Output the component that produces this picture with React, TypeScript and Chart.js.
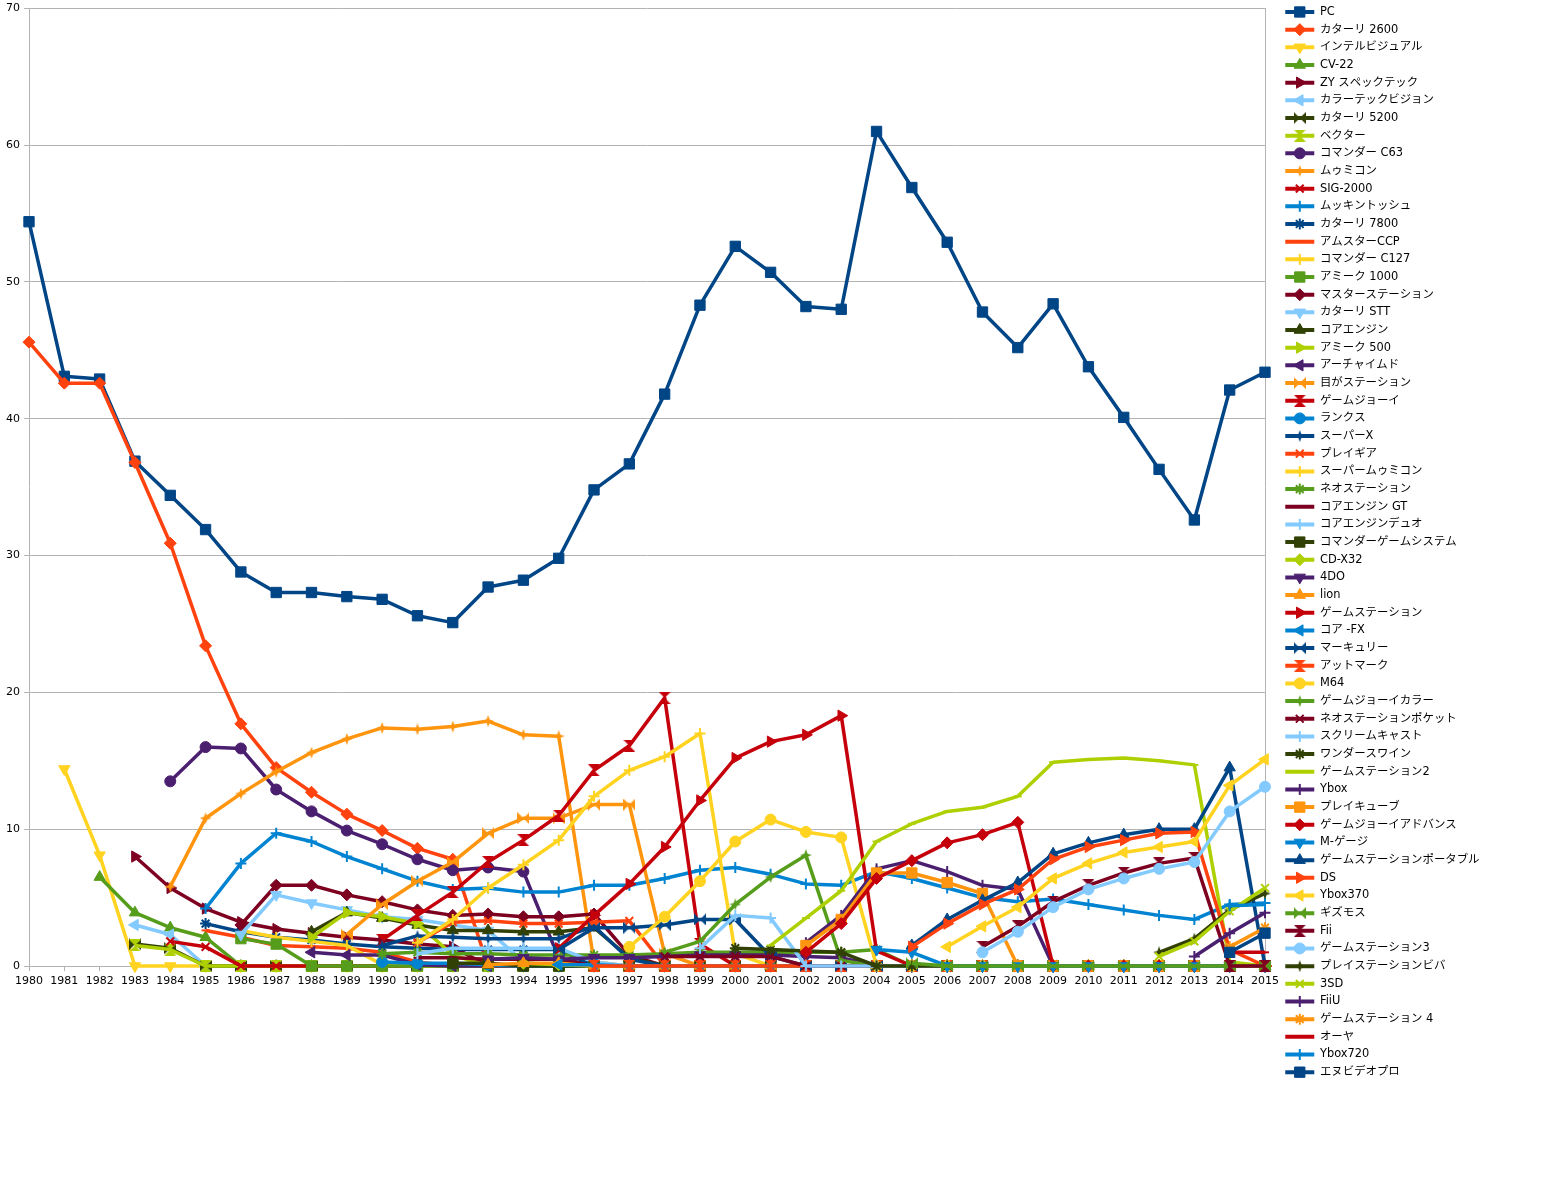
import React, { useEffect, useRef } from 'react';
import { Chart, registerables } from 'chart.js';
import { drawPoint } from 'chart.js/helpers';

Chart.register(...registerables);

const _ = null;

const years = [
  '1980', '1981', '1982', '1983', '1984', '1985', '1986', '1987', '1988', '1989',
  '1990', '1991', '1992', '1993', '1994', '1995', '1996', '1997', '1998', '1999',
  '2000', '2001', '2002', '2003', '2004', '2005', '2006', '2007', '2008', '2009',
  '2010', '2011', '2012', '2013', '2014', '2015',
];

const seriesNames = [
  'PC', 'カターリ 2600', 'インテルビジュアル', 'CV-22', 'ZY スペックテック', 'カラーテックビジョン',
  'カターリ 5200', 'ベクター', 'コマンダー C63', 'ムゥミコン', 'SIG-2000', 'ムッキントッシュ',
  'カターリ 7800', 'アムスターCCP', 'コマンダー C127', 'アミーク 1000', 'マスターステーション', 'カターリ STT',
  'コアエンジン', 'アミーク 500', 'アーチャイムド', '目がステーション', 'ゲームジョーイ', 'ランクス',
  'スーパーX', 'プレイギア', 'スーパームゥミコン', 'ネオステーション', 'コアエンジン GT', 'コアエンジンデュオ',
  'コマンダーゲームシステム', 'CD-X32', '4DO', 'lion', 'ゲームステーション', 'コア -FX',
  'マーキュリー', 'アットマーク', 'M64', 'ゲームジョーイカラー', 'ネオステーションポケット', 'スクリームキャスト',
  'ワンダースワイン', 'ゲームステーション2', 'Ybox', 'プレイキューブ', 'ゲームジョーイアドバンス', 'M-ゲージ',
  'ゲームステーションポータブル', 'DS', 'Ybox370', 'ギズモス', 'Fii', 'ゲームステーション3',
  'プレイステーションビバ', '3SD', 'FiiU', 'ゲームステーション 4', 'オーヤ', 'Ybox720', 'エヌビデオプロ',
];

const pc = [
  54.4, 43.1, 42.9, 36.9, 34.4, 31.9, 28.8, 27.3, 27.3, 27.0,
  26.8, 25.6, 25.1, 27.7, 28.2, 29.8, 34.8, 36.7, 41.8, 48.3,
  52.6, 50.7, 48.2, 48.0, 61.0, 56.9, 52.9, 47.8, 45.2, 48.4,
  43.8, 40.1, 36.3, 32.6, 42.1, 43.4,
];
const katari2600 = [
  45.6, 42.6, 42.6, 36.8, 30.9, 23.4, 17.7, 14.5, 12.7, 11.1,
  9.9, 8.6, 7.8, 0, 0, 0, 0, 0, 0, 0,
  0, 0, 0, 0, 0, 0, 0, 0, 0, 0,
  0, 0, 0, 0, 0, 0,
];
const intelVisual = [
  _, 14.4, 8.1, 0, 0, 0, 0, 0, 0, 0,
  0, 0, 0, 0, 0, 0, 0, 0, 0, 0,
  0, 0, 0, 0, 0, 0, 0, 0, 0, 0,
  0, 0, 0, 0, 0, 0,
];
const cv22 = [
  _, _, 6.5, 3.9, 2.8, 2.1, 0, 0, 0, 0,
  0, 0, 0, 0, 0, 0, 0, 0, 0, 0,
  0, 0, 0, 0, 0, 0, 0, 0, 0, 0,
  0, 0, 0, 0, 0, 0,
];
const zySpecTech = [
  _, _, _, 8.0, 5.7, 4.2, 3.2, 2.7, 2.4, 2.1,
  1.9, 1.6, 1.4, 0, 0, 0, 0, 0, 0, 0,
  0, 0, 0, 0, 0, 0, 0, 0, 0, 0,
  0, 0, 0, 0, 0, 0,
];
const colorTechVision = [
  _, _, _, 3.0, 2.3, 0, 0, 0, 0, 0,
  0, 0, 0, 0, 0, 0, 0, 0, 0, 0,
  0, 0, 0, 0, 0, 0, 0, 0, 0, 0,
  0, 0, 0, 0, 0, 0,
];
const katari5200 = [
  _, _, _, 1.6, 1.3, 0, 0, 0, 0, 0,
  0, 0, 0, 0, 0, 0, 0, 0, 0, 0,
  0, 0, 0, 0, 0, 0, 0, 0, 0, 0,
  0, 0, 0, 0, 0, 0,
];
const vector = [
  _, _, _, 1.5, 1.2, 0, 0, 0, 0, 0,
  0, 0, 0, 0, 0, 0, 0, 0, 0, 0,
  0, 0, 0, 0, 0, 0, 0, 0, 0, 0,
  0, 0, 0, 0, 0, 0,
];
const commanderC63 = [
  _, _, _, _, 13.5, 16.0, 15.9, 12.9, 11.3, 9.9,
  8.9, 7.8, 7.0, 7.2, 6.9, 0.6, 0, 0, 0, 0,
  0, 0, 0, 0, 0, 0, 0, 0, 0, 0,
  0, 0, 0, 0, 0, 0,
];
const mumicon = [
  _, _, _, _, 5.8, 10.8, 12.6, 14.2, 15.6, 16.6,
  17.4, 17.3, 17.5, 17.9, 16.9, 16.8, 0.3, 0, 0, 0,
  0, 0, 0, 0, 0, 0, 0, 0, 0, 0,
  0, 0, 0, 0, 0, 0,
];
const sig2000 = [
  _, _, _, _, 1.8, 1.4, 0, 0, 0, 0,
  0, 0, 0, 0, 0, 0, 0, 0, 0, 0,
  0, 0, 0, 0, 0, 0, 0, 0, 0, 0,
  0, 0, 0, 0, 0, 0,
];
const mukkintosh = [
  _, _, _, _, _, 4.2, 7.5, 9.7, 9.1, 8.0,
  7.1, 6.2, 5.6, 5.7, 5.4, 5.4, 5.9, 5.9, 6.4, 7.0,
  7.2, 6.7, 6.0, 5.9, 6.9, 6.4, 5.7, 5.0, 4.7, 4.9,
  4.5, 4.1, 3.7, 3.4, 4.5, 4.6,
];
const katari7800 = [
  _, _, _, _, _, 3.1, 2.5, 2.1, 1.9, 1.6,
  1.4, 1.3, 1.2, 1.2, 1.2, 1.2, 0, 0, 0, 0,
  0, 0, 0, 0, 0, 0, 0, 0, 0, 0,
  0, 0, 0, 0, 0, 0,
];
const amstarCCP = [
  _, _, _, _, _, 2.6, 2.1, 1.5, 1.4, 1.3,
  1.0, 0.3, 0, 0, 0, 0, 0, 0, 0, 0,
  0, 0, 0, 0, 0, 0, 0, 0, 0, 0,
  0, 0, 0, 0, 0, 0,
];
const commanderC127 = [
  _, _, _, _, _, _, 2.6, 2.1, 1.8, 1.5,
  0.1, 0, 0, 0, 0, 0, 0, 0, 0, 0,
  0, 0, 0, 0, 0, 0, 0, 0, 0, 0,
  0, 0, 0, 0, 0, 0,
];
const amiek1000 = [
  _, _, _, _, _, _, 2.0, 1.6, 0, 0,
  0, 0, 0, 0, 0, 0, 0, 0, 0, 0,
  0, 0, 0, 0, 0, 0, 0, 0, 0, 0,
  0, 0, 0, 0, 0, 0,
];
const masterStation = [
  _, _, _, _, _, _, 3.0, 5.9, 5.9, 5.2,
  4.7, 4.1, 3.7, 3.8, 3.6, 3.6, 3.8, 0.8, 0, 0,
  0, 0, 0, 0, 0, 0, 0, 0, 0, 0,
  0, 0, 0, 0, 0, 0,
];
const katariSTT = [
  _, _, _, _, _, _, 2.3, 5.2, 4.6, 4.1,
  3.6, 3.4, 3.0, 2.6, 0.3, 0, 0, 0, 0, 0,
  0, 0, 0, 0, 0, 0, 0, 0, 0, 0,
  0, 0, 0, 0, 0, 0,
];
const coreEngine = [
  _, _, _, _, _, _, _, _, 2.5, 3.9,
  3.5, 3.0, 2.6, 2.6, 2.5, 2.5, 2.8, 0.6, 0, 0,
  0, 0, 0, 0, 0, 0, 0, 0, 0, 0,
  0, 0, 0, 0, 0, 0,
];
const amiek500 = [
  _, _, _, _, _, _, _, _, 2.1, 3.9,
  3.6, 3.1, 0.8, 0, 0, 0, 0, 0, 0, 0,
  0, 0, 0, 0, 0, 0, 0, 0, 0, 0,
  0, 0, 0, 0, 0, 0,
];
const archimed = [
  _, _, _, _, _, _, _, _, 1.0, 0.8,
  0.8, 0.1, 0, 0, 0, 0, 0, 0, 0, 0,
  0, 0, 0, 0, 0, 0, 0, 0, 0, 0,
  0, 0, 0, 0, 0, 0,
];
const megaStation = [
  _, _, _, _, _, _, _, _, _, 2.3,
  4.5, 6.2, 7.6, 9.7, 10.8, 10.8, 11.8, 11.8, 0.9, 0,
  0, 0, 0, 0, 0, 0, 0, 0, 0, 0,
  0, 0, 0, 0, 0, 0,
];
const gameJoey = [
  _, _, _, _, _, _, _, _, _, _,
  1.9, 3.7, 5.4, 7.6, 9.2, 11.0, 14.3, 16.1, 19.6, 1.6,
  0, 0, 0, 0, 0, 0, 0, 0, 0, 0,
  0, 0, 0, 0, 0, 0,
];
const lanks = [
  _, _, _, _, _, _, _, _, _, _,
  0.3, 0.2, 0.2, 0.1, 0, 0, 0, 0, 0, 0,
  0, 0, 0, 0, 0, 0, 0, 0, 0, 0,
  0, 0, 0, 0, 0, 0,
];
const superX = [
  _, _, _, _, _, _, _, _, _, _,
  1.5, 2.2, 2.1, 2.0, 2.0, 2.0, 2.9, 0.5, 0, 0,
  0, 0, 0, 0, 0, 0, 0, 0, 0, 0,
  0, 0, 0, 0, 0, 0,
];
const playGear = [
  _, _, _, _, _, _, _, _, _, _,
  _, 1.7, 3.2, 3.3, 3.1, 3.1, 3.2, 3.3, 0, 0,
  0, 0, 0, 0, 0, 0, 0, 0, 0, 0,
  0, 0, 0, 0, 0, 0,
];
const superMumicon = [
  _, _, _, _, _, _, _, _, _, _,
  _, 1.7, 3.4, 5.7, 7.4, 9.2, 12.4, 14.3, 15.3, 17.0,
  0.9, 0, 0, 0, 0, 0, 0, 0, 0, 0,
  0, 0, 0, 0, 0, 0,
];
const neoStation = [
  _, _, _, _, _, _, _, _, _, _,
  0.9, 1.0, 0.9, 0.9, 0.8, 0.8, 0.8, 0.8, 0.9, 1.0,
  1.0, 1.0, 1.0, 1.0, 1.2, 0, 0, 0, 0, 0,
  0, 0, 0, 0, 0, 0,
];
const coreEngineGT = [
  _, _, _, _, _, _, _, _, _, _,
  _, 0.6, 0.6, 0.5, 0.5, 0.5, 0, 0, 0, 0,
  0, 0, 0, 0, 0, 0, 0, 0, 0, 0,
  0, 0, 0, 0, 0, 0,
];
const coreEngineDuo = [
  _, _, _, _, _, _, _, _, _, _,
  _, 0.9, 1.3, 1.3, 1.3, 1.3, 0.3, 0, 0, 0,
  0, 0, 0, 0, 0, 0, 0, 0, 0, 0,
  0, 0, 0, 0, 0, 0,
];
const commanderGameSystem = [
  _, _, _, _, _, _, _, _, _, _,
  _, _, 0.2, 0.2, 0, 0, 0, 0, 0, 0,
  0, 0, 0, 0, 0, 0, 0, 0, 0, 0,
  0, 0, 0, 0, 0, 0,
];
const cdX32 = [
  _, _, _, _, _, _, _, _, _, _,
  _, _, _, _, 0.2, 0.1, 0, 0, 0, 0,
  0, 0, 0, 0, 0, 0, 0, 0, 0, 0,
  0, 0, 0, 0, 0, 0,
];
const fourDO = [
  _, _, _, _, _, _, _, _, _, _,
  _, _, _, 0.5, 0.6, 0.5, 0.6, 0.6, 0.7, 0.8,
  0.8, 0.8, 0.7, 0.6, 0, 0, 0, 0, 0, 0,
  0, 0, 0, 0, 0, 0,
];
const lion = [
  _, _, _, _, _, _, _, _, _, _,
  _, _, _, 0.1, 0.2, 0.2, 0, 0, 0, 0,
  0, 0, 0, 0, 0, 0, 0, 0, 0, 0,
  0, 0, 0, 0, 0, 0,
];
const gameStation = [
  _, _, _, _, _, _, _, _, _, _,
  _, _, _, _, _, 1.3, 3.7, 6.0, 8.7, 12.1,
  15.2, 16.4, 16.9, 18.3, 1.1, 0, 0, 0, 0, 0,
  0, 0, 0, 0, 0, 0,
];
const coreFX = [
  _, _, _, _, _, _, _, _, _, _,
  _, _, _, _, _, 0.1, 0.1, 0, 0, 0,
  0, 0, 0, 0, 0, 0, 0, 0, 0, 0,
  0, 0, 0, 0, 0, 0,
];
const mercury = [
  _, _, _, _, _, _, _, _, _, _,
  _, _, _, _, _, 1.2, 2.8, 2.8, 3.0, 3.4,
  3.4, 0.7, 0, 0, 0, 0, 0, 0, 0, 0,
  0, 0, 0, 0, 0, 0,
];
const atmark = [
  _, _, _, _, _, _, _, _, _, _,
  _, _, _, _, _, _, 0, 0, 0, 0,
  0, 0, 0, 0, 0, 0, 0, 0, 0, 0,
  0, 0, 0, 0, 0, 0,
];
const m64 = [
  _, _, _, _, _, _, _, _, _, _,
  _, _, _, _, _, _, _, 1.4, 3.6, 6.2,
  9.1, 10.7, 9.8, 9.4, 0, 0, 0, 0, 0, 0,
  0, 0, 0, 0, 0, 0,
];
const gameJoeyColor = [
  _, _, _, _, _, _, _, _, _, _,
  _, _, _, _, _, _, _, _, 1.0, 1.8,
  4.5, 6.5, 8.1, 0.4, 0, 0, 0, 0, 0, 0,
  0, 0, 0, 0, 0, 0,
];
const neoStationPocket = [
  _, _, _, _, _, _, _, _, _, _,
  _, _, _, _, _, _, _, _, 0.7, 0.7,
  0.7, 0.7, 0, 0, 0, 0, 0, 0, 0, 0,
  0, 0, 0, 0, 0, 0,
];
const screamCast = [
  _, _, _, _, _, _, _, _, _, _,
  _, _, _, _, _, _, _, _, _, 1.3,
  3.7, 3.5, 0, 0, 0, 0, 0, 0, 0, 0,
  0, 0, 0, 0, 0, 0,
];
const wonderSwine = [
  _, _, _, _, _, _, _, _, _, _,
  _, _, _, _, _, _, _, _, _, _,
  1.3, 1.2, 1.1, 1.0, 0, 0, 0, 0, 0, 0,
  0, 0, 0, 0, 0, 0,
];
const gameStation2 = [
  _, _, _, _, _, _, _, _, _, _,
  _, _, _, _, _, _, _, _, _, _,
  _, 1.5, 3.5, 5.5, 9.1, 10.4, 11.3, 11.6, 12.4, 14.9,
  15.1, 15.2, 15.0, 14.7, 0.3, 0,
];
const ybox = [
  _, _, _, _, _, _, _, _, _, _,
  _, _, _, _, _, _, _, _, _, _,
  _, _, 1.7, 3.7, 7.1, 7.7, 6.9, 5.9, 5.6, 0,
  0, 0, 0, 0, 0, 0,
];
const playCube = [
  _, _, _, _, _, _, _, _, _, _,
  _, _, _, _, _, _, _, _, _, _,
  _, _, 1.5, 3.4, 6.8, 6.8, 6.1, 5.3, 0, 0,
  0, 0, 0, 0, 0, 0,
];
const gameJoeyAdvance = [
  _, _, _, _, _, _, _, _, _, _,
  _, _, _, _, _, _, _, _, _, _,
  _, _, 1.0, 3.1, 6.4, 7.7, 9.0, 9.6, 10.5, 0,
  0, 0, 0, 0, 0, 0,
];
const mGauge = [
  _, _, _, _, _, _, _, _, _, _,
  _, _, _, _, _, _, _, _, _, _,
  _, _, _, _, 1.2, 1.0, 0, 0, 0, 0,
  0, 0, 0, 0, 0, 0,
];
const gameStationPortable = [
  _, _, _, _, _, _, _, _, _, _,
  _, _, _, _, _, _, _, _, _, _,
  _, _, _, _, _, 1.5, 3.4, 4.8, 6.1, 8.2,
  9.0, 9.6, 10.0, 10.0, 14.5, 0,
];
const ds = [
  _, _, _, _, _, _, _, _, _, _,
  _, _, _, _, _, _, _, _, _, _,
  _, _, _, _, _, 1.4, 3.1, 4.5, 5.6, 7.8,
  8.7, 9.2, 9.7, 9.8, 1.2, 0,
];
const ybox370 = [
  _, _, _, _, _, _, _, _, _, _,
  _, _, _, _, _, _, _, _, _, _,
  _, _, _, _, _, _, 1.4, 2.9, 4.3, 6.4,
  7.5, 8.3, 8.7, 9.1, 13.2, 15.1,
];
const gizmos = [
  _, _, _, _, _, _, _, _, _, _,
  _, _, _, _, _, _, _, _, _, _,
  _, _, _, _, _, 0.2, 0, 0, 0, 0,
  0, 0, 0, 0, 0, 0,
];
const fii = [
  _, _, _, _, _, _, _, _, _, _,
  _, _, _, _, _, _, _, _, _, _,
  _, _, _, _, _, _, _, 1.4, 2.9, 4.7,
  5.9, 6.8, 7.5, 7.9, 0, 0,
];
const gameStation3 = [
  _, _, _, _, _, _, _, _, _, _,
  _, _, _, _, _, _, _, _, _, _,
  _, _, _, _, _, _, _, 1.0, 2.5, 4.3,
  5.6, 6.4, 7.1, 7.6, 11.3, 13.1,
];
const playStationViva = [
  _, _, _, _, _, _, _, _, _, _,
  _, _, _, _, _, _, _, _, _, _,
  _, _, _, _, _, _, _, _, _, _,
  _, _, 1.0, 2.0, 4.1, 5.3,
];
const threeSD = [
  _, _, _, _, _, _, _, _, _, _,
  _, _, _, _, _, _, _, _, _, _,
  _, _, _, _, _, _, _, _, _, _,
  _, _, 0.7, 1.8, 4.0, 5.7,
];
const fiiU = [
  _, _, _, _, _, _, _, _, _, _,
  _, _, _, _, _, _, _, _, _, _,
  _, _, _, _, _, _, _, _, _, _,
  _, _, _, 0.7, 2.4, 3.9,
];
const gameStation4 = [
  _, _, _, _, _, _, _, _, _, _,
  _, _, _, _, _, _, _, _, _, _,
  _, _, _, _, _, _, _, _, _, _,
  _, _, _, _, 1.4, 2.8,
];
const oya = [
  _, _, _, _, _, _, _, _, _, _,
  _, _, _, _, _, _, _, _, _, _,
  _, _, _, _, _, _, _, _, _, _,
  _, _, _, _, 1.0, 1.0,
];
const ybox720 = [
  _, _, _, _, _, _, _, _, _, _,
  _, _, _, _, _, _, _, _, _, _,
  _, _, _, _, _, _, _, _, _, _,
  _, _, _, _, 4.4, 4.5,
];
const nvideoPro = [
  _, _, _, _, _, _, _, _, _, _,
  _, _, _, _, _, _, _, _, _, _,
  _, _, _, _, _, _, _, _, _, _,
  _, _, _, _, 1.0, 2.4,
];

const seriesValues = [
  pc, katari2600, intelVisual, cv22, zySpecTech, colorTechVision,
  katari5200, vector, commanderC63, mumicon, sig2000, mukkintosh,
  katari7800, amstarCCP, commanderC127, amiek1000, masterStation, katariSTT,
  coreEngine, amiek500, archimed, megaStation, gameJoey, lanks,
  superX, playGear, superMumicon, neoStation, coreEngineGT, coreEngineDuo,
  commanderGameSystem, cdX32, fourDO, lion, gameStation, coreFX,
  mercury, atmark, m64, gameJoeyColor, neoStationPocket, screamCast,
  wonderSwine, gameStation2, ybox, playCube, gameJoeyAdvance, mGauge,
  gameStationPortable, ds, ybox370, gizmos, fii, gameStation3,
  playStationViva, threeSD, fiiU, gameStation4, oya, ybox720, nvideoPro,
];

const palette = [
  '#004586', '#ff420e', '#ffd320', '#579d1c', '#7e0021', '#83caff',
  '#314004', '#aecf00', '#4b1f6f', '#ff950e', '#c5000b', '#0084d1',
];

const FONT_FAMILY = "'DejaVu Sans', 'Noto Sans CJK JP', sans-serif";

function shapeCanvas(kind: string, color: string) {
  const c = document.createElement('canvas');
  const s = 12;
  const h = s / 2;
  c.width = s;
  c.height = s;
  const g = c.getContext('2d')!;
  g.fillStyle = color;
  g.beginPath();
  if (kind === 'bowtie') {
    g.moveTo(0, 0); g.lineTo(h, h); g.lineTo(0, s); g.closePath();
    g.moveTo(s, 0); g.lineTo(h, h); g.lineTo(s, s); g.closePath();
  } else if (kind === 'hourglass') {
    g.moveTo(0, 0); g.lineTo(s, 0); g.lineTo(h, h); g.closePath();
    g.moveTo(0, s); g.lineTo(s, s); g.lineTo(h, h); g.closePath();
  } else {
    g.moveTo(h, 0); g.lineTo(h + 1.6, h - 1.6); g.lineTo(s, h); g.lineTo(h + 1.6, h + 1.6);
    g.lineTo(h, s); g.lineTo(h - 1.6, h + 1.6); g.lineTo(0, h); g.lineTo(h - 1.6, h - 1.6); g.closePath();
  }
  g.fill();
  return c;
}

function markerFor(i: number, color: string) {
  const k = i % 15;
  switch (k) {
    case 0: return { style: 'rect' as any, radius: 7.3, rotation: 0, bw: 1 };
    case 1: return { style: 'rectRot' as any, radius: 6, rotation: 0, bw: 1 };
    case 2: return { style: 'triangle' as any, radius: 6.5, rotation: 180, bw: 1 };
    case 3: return { style: 'triangle' as any, radius: 6.5, rotation: 0, bw: 1 };
    case 4: return { style: 'triangle' as any, radius: 6.5, rotation: 90, bw: 1 };
    case 5: return { style: 'triangle' as any, radius: 6.5, rotation: 270, bw: 1 };
    case 6: return { style: shapeCanvas('bowtie', color) as any, radius: 5, rotation: 0, bw: 1 };
    case 7: return { style: shapeCanvas('hourglass', color) as any, radius: 5, rotation: 0, bw: 1 };
    case 8: return { style: 'circle' as any, radius: 5.5, rotation: 0, bw: 1 };
    case 9: return { style: shapeCanvas('star4', color) as any, radius: 5, rotation: 0, bw: 1 };
    case 10: return { style: 'crossRot' as any, radius: 5.5, rotation: 0, bw: 2 };
    case 11: return { style: 'cross' as any, radius: 5.5, rotation: 0, bw: 2 };
    case 12: return { style: 'star' as any, radius: 5.5, rotation: 0, bw: 2 };
    case 13: return { style: 'line' as any, radius: 4, rotation: 0, bw: 2 };
    default: return { style: 'line' as any, radius: 5.5, rotation: 90, bw: 2 };
  }
}

export default function App() {
  const ref = useRef<HTMLCanvasElement>(null);

  useEffect(() => {
    document.body.style.margin = '0';
    document.body.style.overflow = 'hidden';
    const canvas = ref.current;
    if (!canvas) return;

    const W = 1547;
    const H = 1177;
    const legendFont = 11.4;
    const legendPad = 6.27;
    const boxW = 29;
    const legendLeft = 1279;
    const plotBottom = 966;

    const mctx = document.createElement('canvas').getContext('2d')!;
    mctx.font = `${legendFont}px ${FONT_FAMILY}`;
    let maxText = 0;
    seriesNames.forEach((n) => {
      maxText = Math.max(maxText, mctx.measureText(n).width);
    });
    const legendW = legendPad + boxW + legendFont / 2 + maxText + 10;
    const padRight = Math.max(0, W - legendLeft - legendW);

    const markers = seriesNames.map((n, i) => markerFor(i, palette[i % 12]));

    const datasets = seriesValues.map((vals, i) => {
      const color = palette[i % 12];
      const m = markers[i];
      return {
        label: seriesNames[i],
        data: vals,
        borderColor: color,
        backgroundColor: color,
        borderWidth: 3.5,
        borderJoinStyle: 'round' as const,
        pointStyle: m.style,
        pointRadius: m.radius,
        pointHoverRadius: m.radius,
        pointRotation: m.rotation,
        pointBackgroundColor: color,
        pointBorderColor: color,
        pointBorderWidth: m.bw,
        tension: 0,
        fill: false,
        spanGaps: false,
        clip: false as any,
        order: -i,
      };
    });

    const legendMarkers = {
      id: 'legendMarkers',
      afterDraw(chart: any) {
        const leg = chart.legend;
        if (!leg || !leg.legendItems || !leg.legendHitBoxes) return;
        const ctx = chart.ctx;
        leg.legendItems.forEach((it: any, j: number) => {
          const hb = leg.legendHitBoxes[j];
          if (!hb) return;
          const idx = it.datasetIndex;
          const m = markers[idx];
          const color = palette[idx % 12];
          ctx.save();
          ctx.fillStyle = color;
          ctx.strokeStyle = color;
          ctx.lineWidth = m.bw;
          drawPoint(ctx, { pointStyle: m.style, rotation: m.rotation, radius: m.radius, borderWidth: m.bw } as any,
            hb.left + boxW / 2, hb.top + legendFont / 2);
          ctx.restore();
        });
      },
    };

    Chart.defaults.font.family = FONT_FAMILY;
    Chart.defaults.color = '#000';

    const chart = new Chart(canvas, {
      type: 'line',
      data: { labels: years, datasets: datasets as any },
      options: {
        animation: false,
        responsive: false,
        events: [],
        layout: { padding: { top: 0, left: 0, bottom: 0, right: padRight } },
        scales: {
          x: {
            type: 'category',
            offset: false,
            grid: { display: true, drawOnChartArea: false, drawTicks: true, tickLength: 5, color: '#b3b3b3' },
            border: { display: true, color: '#b3b3b3' },
            ticks: { autoSkip: false, maxRotation: 0, minRotation: 0, padding: 4, font: { size: 11 }, color: '#000' },
            afterFit: (s: any) => { s.height = H - plotBottom; },
          },
          y: {
            type: 'linear',
            min: 0,
            max: 70,
            grid: { color: '#b3b3b3', tickLength: 5, drawTicks: true },
            border: { display: true, color: '#b3b3b3' },
            ticks: { stepSize: 10, padding: 4, font: { size: 11 }, color: '#000' },
            afterFit: (s: any) => { s.width = 29; s.paddingTop = 8; },
          },
          y2: {
            type: 'linear',
            position: 'right',
            display: true,
            grid: { display: false },
            border: { display: true, color: '#b3b3b3' },
            ticks: { display: false },
            afterFit: (s: any) => { s.width = 14; },
          },
        },
        plugins: {
          tooltip: { enabled: false },
          title: { display: false },
          legend: {
            display: true,
            position: 'right',
            align: 'start',
            labels: {
              boxWidth: boxW,
              boxHeight: 4,
              padding: legendPad,
              color: '#000',
              font: { size: legendFont },
              sort: (a: any, b: any) => a.datasetIndex - b.datasetIndex,
              generateLabels: (c: any) =>
                (Chart.defaults.plugins.legend.labels as any).generateLabels(c).map((l: any) => ({
                  ...l,
                  lineWidth: 0,
                  strokeStyle: l.fillStyle,
                })),
            },
          },
        },
      } as any,
      plugins: [legendMarkers],
    });

    return () => {
      chart.destroy();
    };
  }, []);

  return (
    <div style={{ position: 'absolute', left: 0, top: 0, width: 1547, height: 1177, background: '#fff' }}>
      <canvas ref={ref} width={1547} height={1177} style={{ display: 'block', width: 1547, height: 1177 }} />
    </div>
  );
}
